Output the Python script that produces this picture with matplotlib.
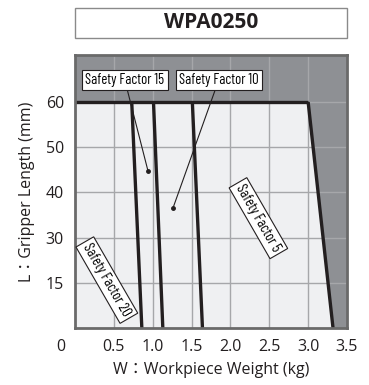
import numpy as np
import matplotlib
matplotlib.use("Agg")
import matplotlib.pyplot as plt
from matplotlib.patches import Rectangle, Polygon

# ---- data ----
title = "WPA0250"
max_length = 60  # mm, gripper length limit
length_ticks = [15, 30, 40, 50, 60]
weight_ticks = [0.5, 1.0, 1.5, 2.0, 2.5, 3.0, 3.5]
weight_tick_labels = ["0.5", "1.0", "1.5", "2.0", "2.5", "3.0", "3.5"]
# limit lines: weight at L=60 (top) and at L=0 (bottom)
sf_names = ["Safety Factor 20", "Safety Factor 15", "Safety Factor 10", "Safety Factor 5"]
w_at_top = [0.73, 1.01, 1.51, 3.00]
w_at_bottom = [0.86, 1.13, 1.64, 3.32]
xlabel = "W：Workpiece Weight (kg)"
ylabel = "L：Gripper Length (mm)"

plt.rcParams['font.family'] = ['Open Sans', 'Noto Sans CJK JP', 'DejaVu Sans']
narrow = ['Barlow Condensed', 'Fira Sans Condensed', 'DejaVu Sans']

W, H = 369, 385
fig = plt.figure(figsize=(W / 100, H / 100), dpi=100)
ax = fig.add_axes([75 / W, 1 - 328 / H, 272 / W, 273 / H])

# nonlinear length axis: 0,15,30 evenly spaced then 10 mm per step
fwd_x = [0, 15, 30, 100]
fwd_y = [0, 1, 2, 9]
ax.set_yscale('function', functions=(lambda v: np.interp(v, fwd_x, fwd_y),
                                     lambda v: np.interp(v, fwd_y, fwd_x)))
ax.set_xlim(0, 3.5)
ax.set_ylim(0, 70.4)

dark = '#8e9094'
light = '#eff0f2'
ax.set_facecolor(dark)
ax.add_patch(Polygon([(0, 0), (0, max_length), (w_at_top[-1], max_length), (w_at_bottom[-1], 0)],
                     closed=True, facecolor=light, edgecolor='none', zorder=0.5))

ax.set_xticks(weight_ticks)
ax.set_xticklabels(weight_tick_labels)
ax.set_yticks(length_ticks)
ax.set_yticklabels([str(v) for v in length_ticks])
ax.tick_params(length=0, labelsize=11.5, colors='#231f20', pad=8)
ax.grid(True, color='#a6a7aa', lw=1.0, zorder=1)
ax.set_axisbelow(False)
for s in ax.spines.values():
    s.set_color('#6a6a6a')
    s.set_linewidth(2.0)
    s.set_zorder(5)

# origin label
ax.annotate("0", xy=(0, 0), xytext=(-10, -8), textcoords='offset points',
            ha='center', va='top', fontsize=11.5, color='#231f20', annotation_clip=False)

lw = 2.4
lc = '#231f20'
ax.plot([0, w_at_top[-1]], [max_length, max_length], color=lc, lw=lw, zorder=3,
        solid_capstyle='butt')
for wt, wb in zip(w_at_top, w_at_bottom):
    ax.plot([wt, wb], [max_length, 0], color=lc, lw=lw, zorder=3, solid_capstyle='butt')

fs_lab = 10.5
box = dict(boxstyle='square,pad=0.22', fc='white', ec='#231f20', lw=0.8)
ax.annotate(sf_names[1], xy=(0.94, 44.7), xytext=(0.64, 64.9),
            fontsize=fs_lab, family=narrow, ha='center', va='center', bbox=box, zorder=6,
            arrowprops=dict(arrowstyle='-', color=lc, lw=0.8, shrinkA=0, shrinkB=0))
ax.annotate(sf_names[2], xy=(1.26, 36.5), xytext=(1.85, 64.9),
            fontsize=fs_lab, family=narrow, ha='center', va='center', bbox=box, zorder=6,
            arrowprops=dict(arrowstyle='-', color=lc, lw=0.8, shrinkA=0, shrinkB=0))
ax.plot([0.94, 1.26], [44.7, 36.5], 'o', ms=2.5, color=lc, zorder=6)
ax.text(2.36, 34.3, sf_names[3], rotation=-60, fontsize=fs_lab, family=narrow,
        ha='center', va='center', bbox=box, zorder=6, rotation_mode='anchor')
ax.text(0.41, 15.9, sf_names[0], rotation=-60, fontsize=fs_lab, family=narrow,
        ha='center', va='center', bbox=box, zorder=6, rotation_mode='anchor')

ax.set_xlabel(xlabel, fontsize=11.5, color='#231f20', labelpad=5)
ax.set_ylabel(ylabel, fontsize=11.5, color='#231f20', labelpad=8)

# title box
fig.patches.append(Rectangle((75 / W, 1 - 38 / H), 272 / W, 30 / H, transform=fig.transFigure,
                             fc='white', ec='#8a8a8a', lw=1.0))
fig.text(211 / W, 1 - 23 / H, title, ha='center', va='center', fontsize=15,
         fontweight='bold', color='#231f20')

fig.savefig('out.png', dpi=100)
